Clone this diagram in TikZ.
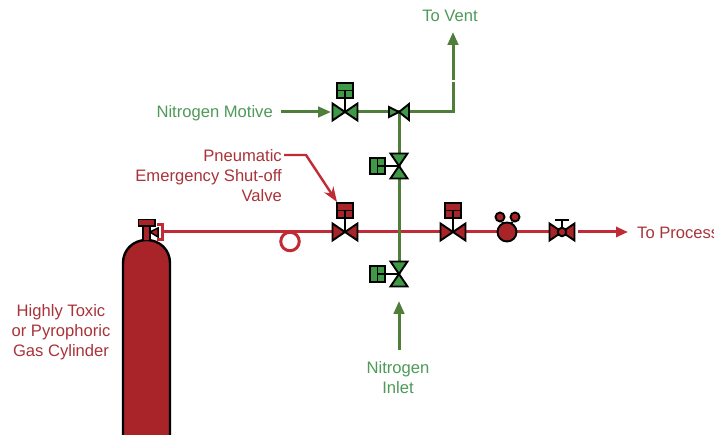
\documentclass[tikz,border=0pt]{standalone}
\usepackage{fontspec}
\setmainfont{Liberation Sans}
\usetikzlibrary{arrows.meta}
\definecolor{redline}{HTML}{C12B36}
\definecolor{redfill}{HTML}{A82428}
\definecolor{redtext}{HTML}{A8343A}
\definecolor{greenline}{HTML}{4F7D3A}
\definecolor{greenfill}{HTML}{3F9A48}
\definecolor{greentext}{HTML}{4F9A58}
\tikzset{
  x=1pt,y=-1pt,
  label text/.style={font=\fontsize{16.6}{20}\selectfont,align=center,inner sep=0pt},
  redlabel/.style={label text,text=redtext},
  greenlabel/.style={label text,text=greentext},
  redpipe/.style={draw=redline,line width=3pt},
  greenpipe/.style={draw=greenline,line width=3pt},
  redarrow/.style={redpipe,-{Triangle[length=12pt,width=10pt,fill=redfill]}},
  greenarrow/.style={greenpipe,-{Triangle[length=13pt,width=10.500pt,fill=greenline]}},
  part/.style={draw=black,line width=1.900pt,line join=miter},
  loopnode/.style={circle,draw=redline,line width=3pt,fill=white,minimum size=18.500pt,inner sep=0pt},
}
\newcommand{\hvalve}[2]{\path[part,fill=#2] (#1) ++(-12.5,-8.5) -- ++(0,17) -- ++(25,-17) -- ++(0,17) -- cycle;}
\newcommand{\vvalve}[2]{\path[part,fill=#2] (#1) ++(-8.5,-12.5) -- ++(17,0) -- ++(-17,25) -- ++(17,0) -- cycle;}
\newcommand{\actup}[2]{\draw[part] (#1) -- ++(0,-22);
  \path[part,fill=#2,line width=2.2pt] (#1) ++(-8,-29) rectangle ++(16,15);
  \draw[line width=1.3pt] (#1) ++(-8,-21.5) -- ++(16,0) (#1) ++(0,-21.5) -- ++(0,7.5);}
\newcommand{\actleft}[2]{\draw[part] (#1) -- ++(-20,0);
  \path[part,fill=#2,line width=2.2pt] (#1) ++(-29,-8) rectangle ++(15,16);
  \draw[line width=1.3pt] (#1) ++(-21.5,-8) -- ++(0,16) (#1) ++(-21.5,0) -- ++(7.5,0);}
\begin{document}
\begin{tikzpicture}
\useasboundingbox[fill=white] (0,0) rectangle (728,435);
\begin{scope}
\clip (0,0) rectangle (713,435);
\coordinate (outlet) at (163,232);
\coordinate (v1) at (345,232);
\coordinate (v2) at (453,232);
\coordinate (reg) at (507,232);
\coordinate (v3) at (562,232);
\coordinate (v3out) at (578,232);
\coordinate (gv1) at (345,112);
\coordinate (gv2) at (399,112);
\coordinate (gv3) at (399,166);
\coordinate (gv4) at (399,274);
\coordinate (elbow) at (453,112);
\coordinate (breaklow) at (453,82);
\coordinate (breakhigh) at (453,80.500);
\coordinate (ventTip) at (453,32);
\coordinate (motiveStart) at (281,112);
\coordinate (inletStart) at (399,350);
\coordinate (inletTip) at (399,301);
\coordinate (lead0) at (284,155);
\coordinate (lead1) at (306,155);
\coordinate (leadTip) at (337,202);
\coordinate (processEnd) at (628,232);
% labels
\node[greenlabel] (vent) at (450,16) {To Vent};
\node[greenlabel,anchor=east] (motive) at (273,113) {Nitrogen Motive};
\node[redlabel,align=right,anchor=north east] (pneu) at (282,149.500) {Pneumatic\\Emergency Shut-off\\Valve};
\node[redlabel] (toxic) at (61,332) {Highly Toxic\\or Pyrophoric\\Gas Cylinder};
\node[greenlabel] (inlet) at (398,378) {Nitrogen\\Inlet};
\node[redlabel,anchor=west] (process) at (637,233) {To Process};
% pipes
\draw[redpipe] (outlet) -- (v3);
\draw[redarrow] (v3out) -- (processEnd);
\node[loopnode] (pipeloop) at (290,241.500) {};
\draw[greenpipe] (gv1) -- (elbow) -- (breaklow);
\draw[greenarrow] (breakhigh) -- (ventTip);
\draw[greenpipe] (gv2) -- (gv4);
\draw[greenarrow] (motiveStart) -- (331,112);
\draw[greenarrow] (inletStart) -- (inletTip);
\draw[draw=redline,line width=2.4pt,-{Stealth[length=15pt,width=11pt,open]}] (lead0) -- (lead1) -- (leadTip);
% cylinder
\path[part,fill=redfill,line width=2.4pt] (123,440) -- (123,263) .. controls (123,250) and (133,240) .. (146.500,240) .. controls (160,240) and (170,250) .. (170,263) -- (170,440) -- cycle;
\path[part,draw=none,fill=redfill] (143,240) rectangle (150,226);
\draw[part,line width=1.500pt] (143,240) -- (143,226) (150,240) -- (150,226);
\path[part,fill=redfill] (138.500,219.500) rectangle (155,226);
\path[part,fill=redfill,line width=1.500pt] (150,232) -- (158,228) -- (158,237) -- cycle;
\draw[redline,line width=3pt] (157,224.500) -- (162.500,224.500) -- (162.500,240) -- (157,240);
% valves
\actup{v1}{redfill}\hvalve{v1}{redfill}
\actup{v2}{redfill}\hvalve{v2}{redfill}
\actup{gv1}{greenfill}\hvalve{gv1}{greenfill}
\actleft{gv3}{greenfill}\vvalve{gv3}{greenfill}
\actleft{gv4}{greenfill}\vvalve{gv4}{greenfill}
\path[part,fill=greenfill] (gv2) -- ++(-10,-5) -- ++(0,10) -- cycle;
\path[part,fill=greenfill] (gv2) -- ++(10,-8) -- ++(0,16) -- cycle;
% regulator
\node[circle,part,fill=redfill,minimum size=9pt,inner sep=0pt] (g1) at (500,217) {};
\node[circle,part,fill=redfill,minimum size=9pt,inner sep=0pt] (g2) at (515,217) {};
\draw[part] (g1) -- (reg) (g2) -- (reg);
\node[circle,part,fill=redfill,minimum size=19pt,inner sep=0pt] (regbody) at (reg) {};
% manual valve
\draw[part] (v3) -- ++(0,-12) ++(-7,0) -- ++(14,0);
\path[part,fill=redfill] (v3) ++(-12.5,-8.5) -- ++(0,17) -- ++(25,-17) -- ++(0,17) -- cycle;
\node[circle,part,fill=redfill,minimum size=8.500pt,inner sep=0pt] (v3ball) at (v3) {};
\end{scope}
\end{tikzpicture}
\end{document}
